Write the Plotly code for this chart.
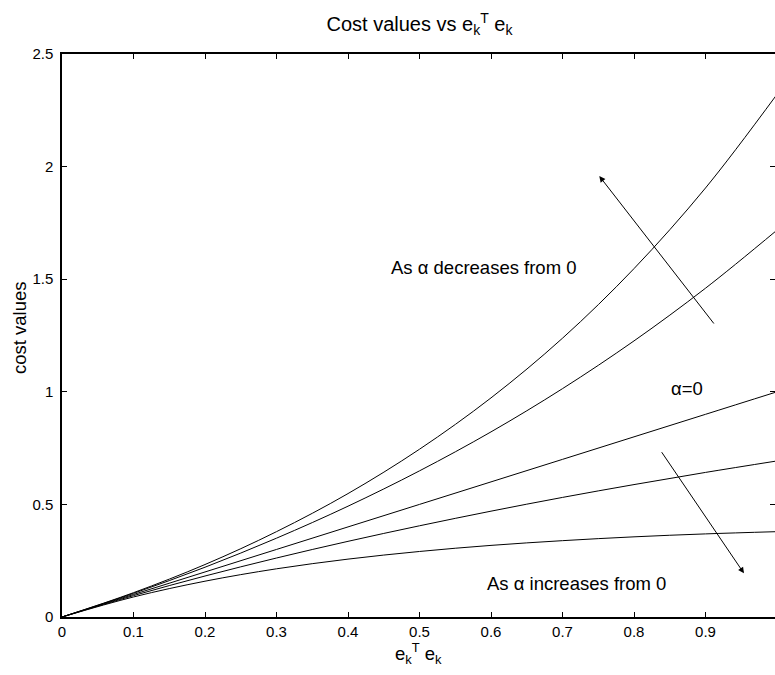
import plotly.graph_objects as go

# x positions (e_k^T e_k)
x_vals = [0.0, 0.1, 0.2, 0.3, 0.4, 0.5, 0.6, 0.7, 0.8, 0.9, 1.0]

# cost value curves (top to bottom)
curve_dec_more = [0.0, 0.108, 0.233, 0.379, 0.548, 0.745, 0.973, 1.238, 1.547, 1.905, 2.321]
curve_dec = [0.0, 0.105, 0.221, 0.350, 0.492, 0.649, 0.822, 1.014, 1.226, 1.460, 1.718]
curve_zero = [0.0, 0.1, 0.2, 0.3, 0.4, 0.5, 0.6, 0.7, 0.8, 0.9, 1.0]
curve_inc = [0.0, 0.095, 0.182, 0.262, 0.336, 0.405, 0.470, 0.531, 0.588, 0.642, 0.693]
curve_inc_more = [0.0, 0.089, 0.159, 0.214, 0.257, 0.291, 0.318, 0.339, 0.356, 0.369, 0.379]

x_ticks = [0, 0.1, 0.2, 0.3, 0.4, 0.5, 0.6, 0.7, 0.8, 0.9, 1]
x_tick_labels = ["0", "0.1", "0.2", "0.3", "0.4", "0.5", "0.6", "0.7", "0.8", "0.9", "1"]
y_ticks = [0, 0.5, 1, 1.5, 2, 2.5]
y_tick_labels = ["0", "0.5", "1", "1.5", "2", "2.5"]

FONT = "Liberation Sans, Arial, Helvetica, sans-serif"

fig = go.Figure()
for ys in [curve_dec_more, curve_dec, curve_zero, curve_inc, curve_inc_more]:
    fig.add_trace(go.Scatter(x=x_vals, y=ys, mode="lines",
                             line=dict(color="black", width=1, shape="spline", smoothing=1.0),
                             showlegend=False, hoverinfo="skip"))
# invisible carrier trace so the right-side tick axis is drawn
fig.add_trace(go.Scatter(x=x_vals, y=curve_zero, mode="lines", yaxis="y2", opacity=0,
                         line=dict(color="black", width=1), showlegend=False, hoverinfo="skip"))

L, R, T, B = 62, 0, 54, 58
W, H = 775, 675
plot_w = W - L - R
x_max = plot_w / 715.0

fig.update_layout(
    width=W, height=H,
    margin=dict(l=L, r=R, t=T, b=B),
    plot_bgcolor="white", paper_bgcolor="white",
    font=dict(family=FONT, size=15, color="black"),
    title=dict(text="Cost values vs e<sub>k</sub><sup>T</sup> e<sub>k</sub>",
               x=419.5 / W, xref="container", xanchor="center",
               y=1 - 24 / H, yref="container", yanchor="middle",
               font=dict(family=FONT, size=20, color="black")),
    xaxis=dict(range=[0, x_max], tickvals=x_ticks, ticktext=x_tick_labels,
               showline=True, linecolor="black", linewidth=1.5, mirror="ticks",
               ticks="inside", ticklen=5, tickcolor="black", tickwidth=1,
               tickfont=dict(family=FONT, size=15, color="black"),
               showgrid=False, zeroline=False, fixedrange=True),
    yaxis=dict(range=[0, 2.5], tickvals=y_ticks, ticktext=y_tick_labels,
               showline=True, linecolor="black", linewidth=1.5, mirror=False,
               ticks="inside", ticklen=5, tickcolor="black", tickwidth=1,
               tickfont=dict(family=FONT, size=15, color="black"),
               showgrid=False, zeroline=False, ticklabelstandoff=4),
    yaxis2=dict(range=[0, 2.5], tickvals=y_ticks, overlaying="y", side="right",
                showline=False, ticks="inside", ticklen=5, tickcolor="black", tickwidth=1,
                showticklabels=False, showgrid=False, zeroline=False),
)

ann_font = dict(family=FONT, size=18.5, color="black")
fig.add_annotation(x=0.590, y=1.550, xref="x", yref="y", text="As α decreases from 0",
                   showarrow=False, font=ann_font, xanchor="center", yanchor="middle")
fig.add_annotation(x=0.8746, y=1.015, xref="x", yref="y", text="α=0",
                   showarrow=False, font=ann_font, xanchor="center", yanchor="middle")
fig.add_annotation(x=0.7193, y=0.149, xref="x", yref="y", text="As α increases from 0",
                   showarrow=False, font=ann_font, xanchor="center", yanchor="middle")

# arrows
fig.add_annotation(x=0.7515, y=1.958, ax=0.9133, ay=1.2966, xref="x", yref="y",
                   axref="x", ayref="y", text="", showarrow=True,
                   arrowhead=2, arrowsize=1.2, arrowwidth=1, arrowcolor="black")
fig.add_annotation(x=0.9538, y=0.194, ax=0.8373, ay=0.7385, xref="x", yref="y",
                   axref="x", ayref="y", text="", showarrow=True,
                   arrowhead=2, arrowsize=1.2, arrowwidth=1, arrowcolor="black")

# axis labels
fig.add_annotation(x=(418 - L) / plot_w, y=(617 - 653) / 563.0, xref="paper", yref="paper",
                   text="e<sub>k</sub><sup>T</sup> e<sub>k</sub>", showarrow=False,
                   font=ann_font, xanchor="center", yanchor="middle")
fig.add_annotation(x=(19 - L) / plot_w, y=(617 - 328) / 563.0, xref="paper", yref="paper",
                   text="cost values", showarrow=False, textangle=-90,
                   font=ann_font, xanchor="center", yanchor="middle")

fig.write_html("out.html")
